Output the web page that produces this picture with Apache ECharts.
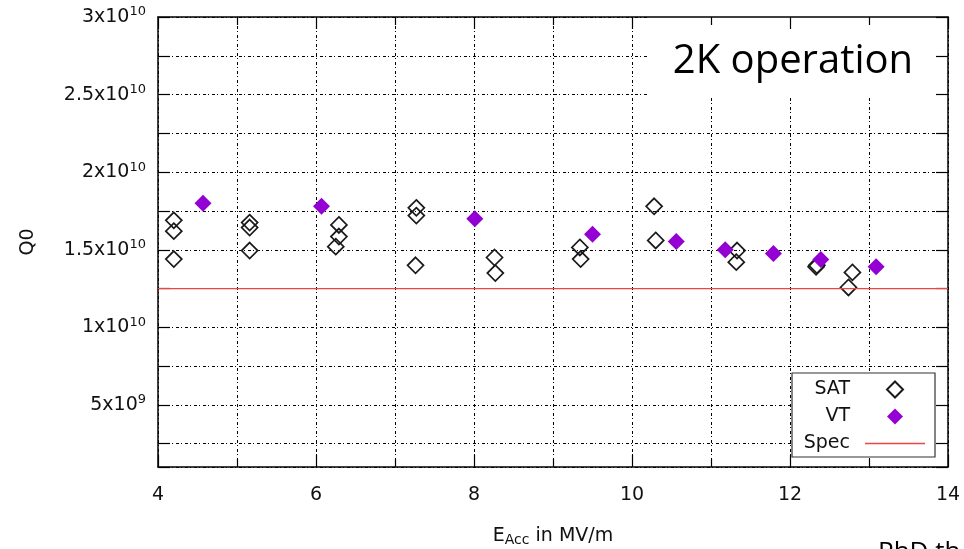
<!DOCTYPE html>
<html>
<head>
<meta charset="utf-8">
<script src="https://cdn.jsdelivr.net/npm/echarts@6/dist/echarts.min.js"></script>
<style>
  html, body { margin: 0; padding: 0; background: #fff; }
  #chart { width: 964px; height: 549px; }
</style>
</head>
<body>
<div id="chart"></div>
<script>
// SAT: open diamonds
const satE = [4.2, 4.2, 4.2, 5.16, 5.16, 5.16, 6.29, 6.29, 6.25, 7.27, 7.27, 7.26,
  8.26, 8.27, 9.34, 9.35, 10.28, 10.3, 11.33, 11.32, 12.33, 12.34, 12.79, 12.74]
const satQ = [1.69, 1.62, 1.44, 1.675, 1.643, 1.495, 1.66, 1.585, 1.52, 1.77, 1.72, 1.40,
  1.45, 1.35, 1.515, 1.44, 1.78, 1.56, 1.495, 1.42, 1.39, 1.40, 1.354, 1.257]
// VT: filled diamonds
const vtE = [4.57, 6.07, 8.01, 9.5, 10.56, 11.18, 11.79, 12.39, 13.09]
const vtQ = [1.80, 1.78, 1.70, 1.60, 1.553, 1.50, 1.476, 1.437, 1.39]
// spec line
const specE = [4, 14]
const specQ = [1.25, 1.25]
const xTicks = [4, 6, 8, 10, 12, 14]

const pairs = (xs, ys) => xs.map((x, i) => [x, ys[i] * 1e10])

const chart = echarts.init(document.getElementById('chart'))

const dotted = { color: '#000', width: 1, type: [3, 2, 1, 3] }
const font = 'DejaVu Sans'
const txt = '#111'
const diamondIcon = 'path://M7,0L14,7L7,14L0,7Z'

function yLabel(v) {
  if (v < 2e9) return ''
  if (v >= 1e10) return '{b|' + (v / 1e10) + 'x10}{s|10}'
  return '{b|' + (v / 1e9) + 'x10}{s|9}'
}

const option = {
  animation: false,
  grid: { left: 158, right: 16, top: 17, bottom: 82, outerBoundsMode: 'none', containLabel: false },
  xAxis: [{
    type: 'value', min: 4, max: 14, interval: 2, position: 'bottom',
    axisLine: { lineStyle: { color: '#000', width: 1.5 } },
    axisTick: { inside: true, length: 12, lineStyle: { color: '#000', width: 1.2 } },
    minorTick: { show: true, splitNumber: 2, length: 8, lineStyle: { color: '#000', width: 1.2 } },
    splitLine: { show: true, lineStyle: dotted },
    minorSplitLine: { show: true, lineStyle: dotted },
    axisLabel: {
      margin: 19, fontSize: 19, fontFamily: font, color: txt,
      formatter: v => xTicks.includes(v) ? String(v) : ''
    },
    name: '{a|E}{b|Acc}{a| in MV/m}',
    nameLocation: 'middle', nameGap: 58,
    nameTextStyle: {
      rich: {
        a: { fontSize: 19, fontFamily: font, color: txt },
        b: { fontSize: 14, fontFamily: font, color: txt, padding: [8, 0, 0, 0] }
      }
    }
  }, {
    type: 'value', min: 4, max: 14, interval: 2, position: 'top', z: 5,
    axisLine: { lineStyle: { color: '#000', width: 1.5 } },
    axisTick: { inside: true, length: 12, lineStyle: { color: '#000', width: 1.2 } },
    minorTick: { show: true, splitNumber: 2, length: 8, lineStyle: { color: '#000', width: 1.2 } },
    splitLine: { show: false },
    axisLabel: { show: false }
  }],
  yAxis: [{
    type: 'value', min: 1e9, max: 3e10, splitNumber: 5, position: 'left',
    axisLine: { show: true, lineStyle: { color: '#000', width: 1.5 } },
    axisTick: { show: true, inside: true, length: 12, lineStyle: { color: '#000', width: 1.2 } },
    minorTick: { show: true, splitNumber: 2, length: 12, lineStyle: { color: '#000', width: 1.2 } },
    splitLine: { show: true, lineStyle: dotted },
    minorSplitLine: { show: true, lineStyle: dotted },
    axisLabel: {
      margin: 12, formatter: yLabel,
      rich: {
        b: { fontSize: 19, fontFamily: font, color: txt },
        s: { fontSize: 13, fontFamily: font, color: txt, padding: [0, 0, 10, 0] }
      }
    },
    name: 'Q0', nameLocation: 'middle', nameGap: 120, nameRotate: 90,
    nameTextStyle: { fontSize: 19, fontFamily: font, color: txt }
  }, {
    type: 'value', min: 1e9, max: 3e10, splitNumber: 5, position: 'right', z: 5,
    axisLine: { show: true, lineStyle: { color: '#000', width: 1.5 } },
    axisTick: { show: true, inside: true, length: 12, lineStyle: { color: '#000', width: 1.2 } },
    minorTick: { show: true, splitNumber: 2, length: 12, lineStyle: { color: '#000', width: 1.2 } },
    splitLine: { show: false },
    axisLabel: { show: false }
  }],
  legend: {
    left: 792, top: 373, orient: 'vertical', align: 'right',
    backgroundColor: '#fff', borderColor: '#333', borderWidth: 1.2,
    padding: [7, 10, 4, 6], itemGap: 8, itemWidth: 60, itemHeight: 16,
    symbolKeepAspect: true,
    formatter: name => '{t|' + name + '}',
    textStyle: {
      rich: {
        t: { width: 52, lineHeight: 22, align: 'right', padding: [0, 10, 0, 0], fontSize: 19, fontFamily: font, color: txt }
      }
    },
    data: [
      { name: 'SAT', icon: diamondIcon },
      { name: 'VT', icon: diamondIcon },
      { name: 'Spec', icon: 'path://M0,0H60V1.5H0Z' }
    ]
  },
  graphic: [
    { type: 'rect', z: 1, shape: { x: 648, y: 17, width: 299, height: 80 }, style: { fill: '#fff' } },
    {
      type: 'text', z: 3, x: 793, y: 62,
      style: { text: '2K operation', fontSize: 40, fontFamily: 'Open Sans', fill: '#000', align: 'center', verticalAlign: 'middle' }
    },
    {
      type: 'text', z: 3, x: 878, y: 540,
      style: { text: 'PhD th', fontSize: 26, fontFamily: 'Open Sans', fill: '#000', align: 'left', verticalAlign: 'top' }
    }
  ],
  series: [{
    name: 'SAT', type: 'scatter', symbol: 'diamond', symbolSize: 16,
    itemStyle: { color: 'rgba(255,255,255,0)', borderColor: '#1a1a1a', borderWidth: 1.7, opacity: 1 },
    data: pairs(satE, satQ)
  }, {
    name: 'VT', type: 'scatter', symbol: 'diamond', symbolSize: 17,
    itemStyle: { color: '#9400d3', opacity: 1 },
    data: pairs(vtE, vtQ)
  }, {
    name: 'Spec', type: 'line', symbol: 'none', z: 6,
    lineStyle: { color: '#ee4444', width: 1.3 },
    itemStyle: { color: '#ee4444' },
    data: pairs(specE, specQ)
  }]
}

chart.setOption(option)
</script>
</body>
</html>
